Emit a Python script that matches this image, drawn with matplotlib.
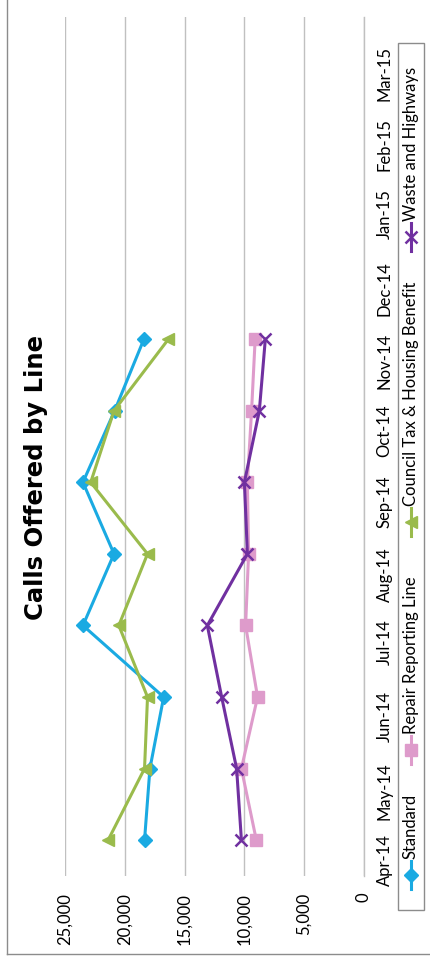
import matplotlib
matplotlib.use('Agg')
import matplotlib.pyplot as plt
from matplotlib.patches import Rectangle

months = ['Apr-14', 'May-14', 'Jun-14', 'Jul-14', 'Aug-14', 'Sep-14',
          'Oct-14', 'Nov-14', 'Dec-14', 'Jan-15', 'Feb-15', 'Mar-15']
standard = [18350, 17900, 16750, 23500, 20900, 23500, 20850, 18400]
repair = [9000, 10250, 8900, 9900, 9650, 9750, 9400, 9100]
council = [21400, 18350, 18100, 20500, 18100, 22850, 20900, 16350]
waste = [10250, 10650, 11900, 13100, 9750, 10000, 8750, 8250]
value_ticks = [0, 5000, 10000, 15000, 20000, 25000]
series_names = ['Standard', 'Repair Reporting Line',
                'Council Tax & Housing Benefit', 'Waste and Highways']
title = 'Calls Offered by Line'

colors = ['#1AAAE2', '#DE9BCB', '#9ABB4C', '#7030A0']
markers = ['D', 's', '<', 'x']
msizes = [7, 8, 9, 9]
series = [standard, repair, council, waste]

FONT = ['Lato', 'DejaVu Sans']
plt.rcParams['font.family'] = FONT
W, H = 430, 964
fig = plt.figure(figsize=(W / 100, H / 100), dpi=100)
fig.patch.set_facecolor('white')

ax = fig.add_axes([65 / W, 1 - 876 / H, (364 - 65) / W, (876 - 17) / H])
for vals, c, m, ms in zip(series, colors, markers, msizes):
    ax.plot(vals, list(range(len(vals))), color=c, lw=2.2, marker=m,
            markersize=ms, markeredgewidth=1.8 if m == 'x' else 1,
            markeredgecolor=c, markerfacecolor=c, clip_on=False)
ax.set_xlim(25000, 0)
ax.set_ylim(-0.5, len(months) - 0.5)
ax.set_xticks(value_ticks)
ax.set_xticklabels([f'{v:,}' for v in value_ticks], rotation=90,
                   fontsize=12, color='#000000')
ax.set_yticks(range(len(months)))
ax.set_yticklabels(months, rotation=90, fontsize=12)
ax.yaxis.tick_right()
ax.tick_params(axis='x', length=0, pad=12)
ax.tick_params(axis='y', length=0, pad=9)
ax.grid(axis='x', color='#C0C0C0', lw=1)
ax.set_axisbelow(True)
for s in ['top', 'bottom', 'left']:
    ax.spines[s].set_visible(False)
ax.spines['right'].set_color('#C0C0C0')
ax.spines['right'].set_linewidth(1)

ov = fig.add_axes([0, 0, 1, 1], zorder=-1)
ov.set_xlim(0, W)
ov.set_ylim(H, 0)
ov.axis('off')
ov.patch.set_alpha(0)
ov.plot([7, 7], [0, 954], color='#8C8C8C', lw=1)
ov.plot([7, W], [954, 954], color='#8C8C8C', lw=1)
ov.text(36, 477, title, rotation=90, fontsize=17.5, fontweight='bold',
        ha='center', va='center', family=['DejaVu Sans'])

ov2 = fig.add_axes([0, 0, 1, 1], zorder=5)
ov2.set_xlim(0, W)
ov2.set_ylim(H, 0)
ov2.axis('off')
ov2.patch.set_alpha(0)
ov2.add_patch(Rectangle((398, 43), 26, 867, fill=False, edgecolor='#8C8C8C', lw=1))
leg_y = [875, 750, 522, 237]
for y, name, c, m, ms in zip(leg_y, series_names, colors, markers, msizes):
    ov2.plot([411, 411], [y + 14, y - 14], color=c, lw=2.2)
    ov2.plot([411], [y], marker=m, markersize=ms, color=c,
             markeredgewidth=1.8 if m == 'x' else 1)
    ov2.text(411, y - 16, name, rotation=90, fontsize=12, ha='center',
             va='bottom', family=FONT)

fig.savefig('out.png', dpi=100, facecolor='white')
